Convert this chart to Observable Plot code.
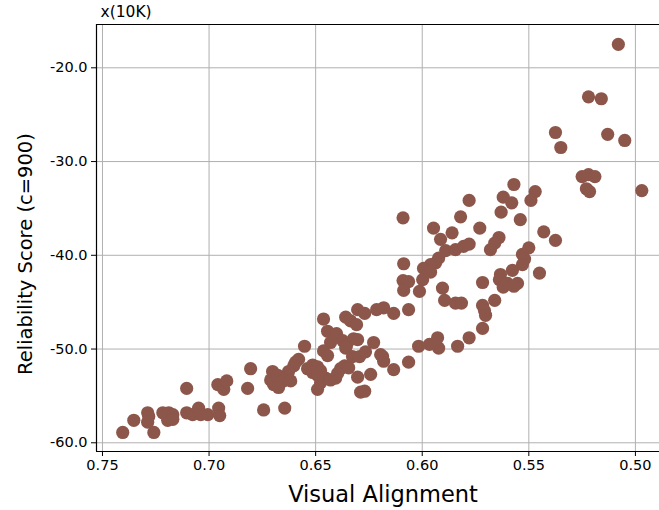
<!DOCTYPE html>
<html>
<head>
<meta charset="utf-8">
<script src="https://cdn.jsdelivr.net/npm/d3@7"></script>
<script src="https://cdn.jsdelivr.net/npm/@observablehq/plot@0.6"></script>
<style>
  html, body { margin: 0; padding: 0; background: #fff; }
</style>
</head>
<body>
<div id="chart"></div>
<script>
// Visual Alignment (x) values
const xVals = [
  0.508, 0.522, 0.516, 0.5375, 0.535, 0.513, 0.505, 0.525, 0.522, 0.519,
  0.523, 0.5215, 0.497, 0.557, 0.547, 0.549, 0.562, 0.558, 0.563, 0.554,
  0.573, 0.543, 0.5375, 0.564, 0.566, 0.568, 0.550, 0.553, 0.552, 0.553,
  0.545, 0.5577, 0.5633, 0.5638, 0.560, 0.5553, 0.562, 0.557, 0.5717, 0.566,
  0.5717, 0.5708, 0.5703, 0.5717, 0.609, 0.5947, 0.582, 0.578, 0.586, 0.5914,
  0.589, 0.5844, 0.5806, 0.578, 0.5923, 0.5937, 0.5961, 0.5994, 0.5961, 0.5998,
  0.6013, 0.6087, 0.609, 0.6064, 0.6087, 0.5905, 0.5895, 0.5844, 0.5816, 0.6181,
  0.6134, 0.6064, 0.578, 0.5834, 0.5923, 0.5928, 0.5966, 0.6017, 0.6064, 0.6134,
  0.6186, 0.6181, 0.6303, 0.627, 0.6214, 0.6463, 0.6359, 0.6336, 0.6308, 0.6444,
  0.6402, 0.643, 0.6373, 0.6355, 0.6322, 0.6303, 0.6228, 0.6552, 0.6463, 0.6444,
  0.6359, 0.6327, 0.6294, 0.6266, 0.6195, 0.6242, 0.6303, 0.6289, 0.627, 0.6491,
  0.6477, 0.6453, 0.643, 0.6406, 0.6383, 0.6364, 0.6345, 0.6397, 0.6538, 0.6514,
  0.6491, 0.6477, 0.6514, 0.6491, 0.658, 0.6594, 0.6603, 0.6627, 0.6664, 0.6697,
  0.6711, 0.6702, 0.6678, 0.665, 0.6674, 0.6617, 0.6805, 0.6819, 0.6744, 0.6645,
  0.7405, 0.7353, 0.7288, 0.7283, 0.7288, 0.7259, 0.7217, 0.7189, 0.717, 0.7194,
  0.717, 0.7105, 0.7105, 0.7077, 0.7049, 0.7039, 0.7006, 0.6959, 0.6931, 0.6917,
  0.6955, 0.695
];
// Reliability Score values, in units of 10K
const yVals = [
  -17.5, -23.1, -23.3, -26.9, -28.5, -27.1, -27.75, -31.6, -31.4, -31.6,
  -32.9, -33.2, -33.1, -32.45, -33.2, -34.15, -33.8, -34.4, -35.4, -36.2,
  -37.1, -37.5, -38.4, -38.1, -38.7, -39.4, -39.2, -39.9, -40.4, -41.0,
  -41.9, -41.6, -42.05, -42.6, -43.0, -43.0, -43.4, -43.3, -42.9, -44.8,
  -45.35, -45.9, -46.4, -47.8, -36.0, -37.1, -35.9, -34.15, -37.6, -38.3,
  -39.5, -39.4, -39.05, -38.8, -40.3, -40.8, -41.0, -41.4, -41.8, -42.6,
  -43.85, -40.9, -42.7, -42.8, -43.75, -43.5, -44.8, -45.1, -45.1, -45.6,
  -46.2, -45.8, -48.8, -49.7, -49.9, -48.8, -49.5, -49.7, -51.4, -52.2,
  -50.8, -51.3, -45.8, -46.2, -45.8, -46.8, -46.6, -47.0, -47.4, -48.1,
  -48.35, -49.3, -49.1, -49.6, -48.9, -49.0, -49.3, -49.7, -50.2, -50.7,
  -49.9, -50.8, -50.8, -50.3, -50.6, -52.7, -53.0, -54.6, -54.5, -54.3,
  -53.6, -53.1, -53.3, -53.1, -52.1, -51.8, -52.0, -52.6, -52.1, -51.7,
  -51.9, -52.3, -52.5, -52.8, -51.1, -51.4, -51.8, -52.4, -53.3, -53.8,
  -53.3, -52.4, -52.8, -53.4, -54.1, -53.4, -52.1, -54.2, -56.5, -56.3,
  -58.9, -57.6, -56.8, -57.2, -57.8, -58.9, -56.8, -56.8, -57.0, -57.6,
  -57.5, -54.2, -56.8, -57.0, -56.3, -57.0, -57.0, -53.8, -54.3, -53.4,
  -56.3, -57.1
];
const xTicks = [0.75, 0.70, 0.65, 0.60, 0.55, 0.50];
const yTicks = [-60, -50, -40, -30, -20];
const xDomain = [0.7528, 0.4887];
const yDomain = [-60.93, -15.38];
const xLabel = "Visual Alignment";
const yLabel = "Reliability Score (c=900)";
const unitLabel = "x(10K)";

const data = xVals.map((x, i) => ({x, y: yVals[i]}));

const chart = Plot.plot({
  width: 659,
  height: 510,
  marginTop: 24,
  marginLeft: 96,
  marginRight: 0,
  marginBottom: 59,
  style: {fontFamily: "DejaVu Sans", fontSize: "14px", color: "black", background: "white"},
  x: {domain: xDomain},
  y: {domain: yDomain},
  marks: [
    Plot.gridX(xTicks, {stroke: "#b0b0b0", strokeOpacity: 1, strokeWidth: 1}),
    Plot.gridY(yTicks, {stroke: "#b0b0b0", strokeOpacity: 1, strokeWidth: 1}),
    Plot.axisX(xTicks, {tickSize: 5, tickPadding: 3, tickFormat: d => d.toFixed(2), label: null, fontSize: 14.5}),
    Plot.axisY(yTicks, {tickSize: 5, tickPadding: 4, tickFormat: d => d.toFixed(1), label: null, fontSize: 14.5}),
    Plot.dot(data, {x: "x", y: "y", r: 6.6, fill: "#8c564b", stroke: "none"}),
    Plot.ruleX([xDomain[0]], {stroke: "black", strokeWidth: 1.2}),
    Plot.ruleY([yDomain[0], yDomain[1]], {stroke: "black", strokeWidth: 1.2}),
    Plot.text([xLabel], {text: d => d, frameAnchor: "bottom", dy: 43, dx: 5, fontSize: 22.5, textAnchor: "middle", lineAnchor: "middle"}),
    Plot.text([yLabel], {text: d => d, frameAnchor: "left", dx: -71, dy: 16, rotate: -90, fontSize: 19.5, textAnchor: "middle", lineAnchor: "middle"}),
    Plot.text([unitLabel], {text: d => d, frameAnchor: "top-left", dx: 4, dy: -12, textAnchor: "start", fontSize: 15.5, lineAnchor: "middle"})
  ]
});
document.getElementById("chart").appendChild(chart);
</script>
</body>
</html>
